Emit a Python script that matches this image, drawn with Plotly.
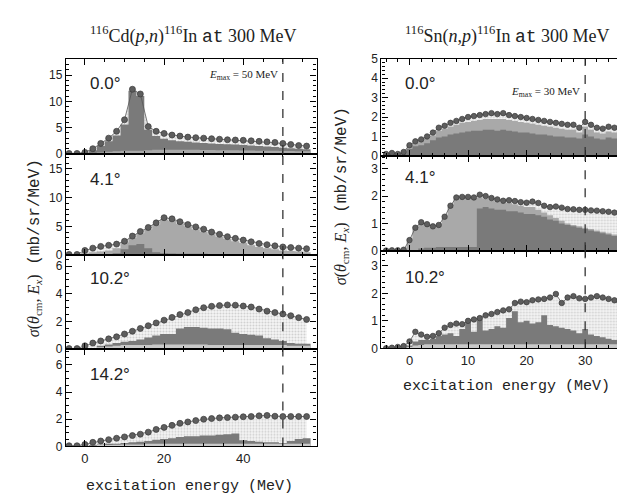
import plotly.graph_objects as go

# ---------------- data ----------------
LEFT_E = list(range(-4, 58, 2))      # excitation energy grid, Cd(p,n)
RIGHT_E = list(range(-4, 38))        # excitation energy grid, Sn(n,p)

CD_ANGLES = ["0.0°", "4.1°", "10.2°", "14.2°"]
SN_ANGLES = ["0.0°", "4.1°", "10.2°"]

# Cd(p,n) measured cross sections
CD_00 = [0.1, 0.1, 0.3, 1.0, 2.0, 3.0, 4.3, 6.5, 12.3, 11.4, 5.2, 4.3, 3.9, 3.6, 3.4, 3.2,
         3.1, 3.0, 2.9, 2.8, 2.7, 2.65, 2.6, 2.5, 2.4, 2.3, 2.2, 2.0, 1.8, 1.6, 1.5]
CD_41 = [0.1, 0.1, 0.8, 1.2, 1.5, 1.7, 1.9, 2.4, 3.3, 4.1, 4.8, 5.6, 6.5, 6.3, 5.8, 5.3,
         4.9, 4.5, 4.0, 3.6, 3.2, 2.9, 2.6, 2.3, 2.0, 1.8, 1.6, 1.4, 1.3, 1.2, 1.1]
CD_102 = [0.05, 0.05, 0.25, 0.45, 0.6, 0.75, 0.9, 1.1, 1.3, 1.5, 1.7, 1.9, 2.1, 2.3, 2.5, 2.65,
          2.85, 3.0, 3.1, 3.15, 3.2, 3.18, 3.12, 3.05, 2.9, 2.75, 2.65, 2.55, 2.42, 2.28, 2.15]
CD_142 = [0.05, 0.05, 0.15, 0.3, 0.4, 0.5, 0.6, 0.7, 0.8, 0.9, 1.05, 1.25, 1.4, 1.55, 1.7, 1.8,
          1.9, 2.0, 2.05, 2.1, 2.12, 2.15, 2.18, 2.2, 2.25, 2.28, 2.22, 2.2, 2.2, 2.2, 2.2]

# Cd(p,n) multipole components (histograms)
CD_00_DARK = [0, 0, 0.15, 0.7, 1.5, 2.4, 3.5, 5.6, 12.0, 11.0, 4.6, 3.4, 2.9, 2.6, 2.4, 2.3,
              2.2, 2.1, 2.0, 1.9, 1.85, 1.8, 1.7, 1.6, 1.5, 1.4, 1.3, 1.2, 1.1, 1.0, 0.9]
CD_00_MED = [0, 0, 0.05, 0.2, 0.3, 0.4, 0.5, 0.6, 0.6, 0.6, 0.7, 0.8, 0.8, 0.8, 0.8, 0.8,
             0.8, 0.75, 0.75, 0.7, 0.7, 0.7, 0.65, 0.65, 0.6, 0.6, 0.6, 0.55, 0.55, 0.5, 0.5]
CD_41_MED = [0, 0, 0.3, 0.5, 0.6, 0.8, 1.2, 2.2, 3.0, 3.8, 4.5, 5.3, 6.2, 6.0, 5.5, 5.0,
             4.5, 4.1, 3.6, 3.2, 2.8, 2.4, 2.1, 1.7, 1.4, 1.2, 1.0, 0.8, 0.7, 0.6, 0.5]
CD_41_DARK = [0, 0, 0, 0, 0, 0, 0.3, 1.0, 1.7, 1.9, 1.2, 0.5, 0.3, 0.25, 0.2, 0.2,
              0.2, 0.2, 0.15, 0.15, 0.15, 0.15, 0.1, 0.1, 0.1, 0.1, 0.1, 0.1, 0.1, 0.1, 0.1]
CD_102_DARK = [0, 0, 0, 0.1, 0.25, 0.35, 0.45, 0.55, 0.6, 0.7, 0.85, 1.0, 1.1, 1.1, 1.5, 1.6,
               1.6, 1.55, 1.5, 1.5, 1.45, 1.2, 1.1, 1.05, 1.0, 0.8, 0.7, 0.6, 0.45, 0.4, 0.4]
CD_102_BASE = [0, 0, 0, 0.1, 0.15, 0.2, 0.25, 0.3, 0.3, 0.3, 0.3, 0.35, 0.35, 0.35, 0.35, 0.35,
               0.35, 0.35, 0.3, 0.3, 0.3, 0.3, 0.3, 0.3, 0.3, 0.3, 0.3, 0.3, 0.25, 0.25, 0.25]
CD_142_DARK = [0, 0, 0, 0.1, 0.15, 0.2, 0.2, 0.25, 0.3, 0.35, 0.4, 0.5, 0.55, 0.6, 0.7, 0.75,
               0.75, 0.8, 0.8, 0.85, 0.9, 0.95, 0.45, 0.4, 0.35, 0.3, 0.3, 0.25, 0.4, 0.55, 0.6]
CD_142_BASE = [0, 0, 0, 0.05, 0.1, 0.1, 0.12, 0.15, 0.15, 0.15, 0.2, 0.2, 0.2, 0.2, 0.2, 0.2,
               0.2, 0.2, 0.2, 0.2, 0.2, 0.2, 0.2, 0.2, 0.2, 0.2, 0.2, 0.2, 0.2, 0.2, 0.2]

# Sn(n,p) measured cross sections
SN_00 = [0.1, 0.15, 0.1, 0.2, 0.55, 0.75, 0.85, 1.0, 1.2, 1.45, 1.55, 1.7, 1.8, 1.9, 2.0, 2.05,
         2.1, 2.15, 2.2, 2.15, 2.2, 2.1, 2.05, 2.0, 1.95, 1.9, 1.85, 1.8, 1.75, 1.7, 1.65, 1.6,
         1.6, 1.45, 1.75, 1.6, 1.45, 1.4, 1.5, 1.45, 1.55, 1.65]
SN_41 = [0.02, 0.03, 0.03, 0.05, 0.4, 0.85, 1.05, 0.98, 0.9, 0.95, 1.25, 1.65, 1.95, 1.97, 1.97, 1.95,
         2.05, 2.0, 1.93, 1.88, 1.83, 1.85, 1.82, 1.78, 1.76, 1.8, 1.75, 1.65, 1.6, 1.62, 1.58, 1.53,
         1.52, 1.5, 1.5, 1.48, 1.47, 1.45, 1.43, 1.4, 1.35, 1.4]
SN_102 = [0.0, 0.02, 0.05, 0.08, 0.25, 0.6, 0.5, 0.42, 0.45, 0.55, 0.75, 0.85, 0.9, 0.88, 1.0, 1.05,
          1.1, 1.2, 1.25, 1.32, 1.38, 1.42, 1.65, 1.7, 1.68, 1.75, 1.78, 1.8, 1.85, 1.98, 1.65, 1.85,
          1.9, 1.82, 1.8, 1.85, 1.9, 1.85, 1.8, 1.75, 1.55, 1.7]

# Sn(n,p) multipole components (histograms)
SN_00_MED = [0.08, 0.12, 0.08, 0.15, 0.5, 0.65, 0.75, 0.9, 1.05, 1.3, 1.4, 1.5, 1.6, 1.7, 1.75, 1.8,
             1.85, 1.9, 1.9, 1.9, 1.9, 1.85, 1.8, 1.75, 1.7, 1.65, 1.6, 1.55, 1.5, 1.45, 1.4, 1.35,
             1.35, 1.2, 1.5, 1.35, 1.2, 1.15, 1.25, 1.2, 1.3, 1.4]
SN_00_DARK = [0.05, 0.1, 0.05, 0.1, 0.35, 0.5, 0.55, 0.65, 0.8, 0.95, 1.0, 1.1, 1.15, 1.2, 1.25, 1.3,
              1.3, 1.35, 1.35, 1.3, 1.35, 1.3, 1.25, 1.2, 1.2, 1.15, 1.1, 1.1, 1.05, 1.0, 1.0, 0.95,
              0.95, 0.9, 1.1, 1.0, 0.9, 0.85, 0.95, 0.9, 1.0, 1.05]
SN_41_MED = [0, 0, 0, 0, 0.35, 0.8, 1.0, 0.93, 0.85, 0.9, 1.2, 1.6, 1.9, 1.92, 1.92, 1.9,
             1.95, 1.9, 1.85, 1.8, 1.75, 1.75, 1.7, 1.65, 1.6, 1.6, 1.5, 1.4, 1.3, 1.2, 1.1, 1.0,
             0.95, 0.9, 0.85, 0.8, 0.75, 0.7, 0.65, 0.6, 0.55, 0.5]
SN_41_DARK = [0, 0, 0, 0, 0, 0, 0, 0, 0, 0, 0, 0, 0, 0, 0, 0,
              1.55, 1.6, 1.55, 1.5, 1.5, 1.45, 1.45, 1.4, 1.35, 1.35, 1.3, 1.25, 1.15, 1.1, 1.0, 0.95,
              0.9, 0.85, 0.8, 0.75, 0.7, 0.65, 0.6, 0.55, 0.5, 0.45]
SN_41_BASE = [0, 0, 0, 0, 0, 0, 0.1, 0.12, 0.12, 0.15, 0.15, 0.15, 0.15, 0.15, 0.15, 0.15,
              0.15, 0.15, 0.15, 0.15, 0.15, 0.15, 0.15, 0.15, 0.15, 0.15, 0.15, 0.15, 0.15, 0.15, 0.15, 0.15,
              0.15, 0.15, 0.15, 0.15, 0.15, 0.15, 0.15, 0.15, 0.15, 0.15]
SN_102_DARK = [0, 0, 0, 0, 0.1, 0.25, 0.3, 0.3, 0.35, 0.45, 0.5, 0.55, 0.45, 0.7, 0.95, 0.6,
               1.05, 0.65, 0.7, 0.8, 0.75, 1.1, 1.35, 0.95, 1.0, 0.9, 0.95, 1.2, 0.85, 0.8, 0.75, 0.7,
               0.65, 0.55, 0.7, 0.5, 0.45, 0.4, 0.35, 0.3, 0.3, 0.25]
SN_102_BASE = [0, 0, 0, 0, 0.05, 0.1, 0.12, 0.15, 0.15, 0.15, 0.15, 0.15, 0.15, 0.15, 0.15, 0.15,
               0.15, 0.15, 0.15, 0.15, 0.15, 0.15, 0.15, 0.15, 0.15, 0.15, 0.15, 0.15, 0.15, 0.15, 0.15, 0.15,
               0.15, 0.15, 0.15, 0.15, 0.15, 0.15, 0.15, 0.15, 0.15, 0.15]

# ---------------- styling ----------------
W, H = 625, 495
DARK = "#7a7a7a"
MED = "#a9a9a9"
LIGHT = "#c9c9c9"
MARK = "#5e5e5e"

def py(p):
    return 1 - p / H

def px(p):
    return p / W

LEFT_XD = [px(58), px(309)]
RIGHT_XD = [px(374), 1.0]
panels = [
    dict(E=LEFT_E, y=CD_00, layers=[(CD_00_DARK, DARK), (CD_00_MED, MED)], yd=(45, 143), xd=LEFT_XD,
         xr=[-4.8, 58.5], yr=[0, 18.1], dt=5, mt=1, lab=CD_ANGLES[0], ly=0.745),
    dict(E=LEFT_E, y=CD_41, layers=[(CD_41_MED, MED), (CD_41_DARK, DARK)], yd=(143, 247), xd=LEFT_XD,
         xr=[-4.8, 58.5], yr=[0, 17.6], dt=5, mt=1, lab=CD_ANGLES[1], ly=0.745),
    dict(E=LEFT_E, y=CD_102, layers=[(CD_102_DARK, DARK), (CD_102_BASE, LIGHT)], yd=(247, 344), xd=LEFT_XD,
         xr=[-4.8, 58.5], yr=[0, 6.8], dt=2, mt=0.5, lab=CD_ANGLES[2], ly=0.75),
    dict(E=LEFT_E, y=CD_142, layers=[(CD_142_DARK, DARK), (CD_142_BASE, LIGHT)], yd=(344, 444), xd=LEFT_XD,
         xr=[-4.8, 58.5], yr=[0, 7.14], dt=2, mt=0.5, lab=CD_ANGLES[3], ly=0.74),
    dict(E=RIGHT_E, y=SN_00, layers=[(SN_00_MED, MED), (SN_00_DARK, DARK)], yd=(45, 145), xd=RIGHT_XD,
         xr=[-4.8, 38.0], yr=[0, 5], dt=1, mt=0.2, lab=SN_ANGLES[0], ly=0.74),
    dict(E=RIGHT_E, y=SN_41, layers=[(SN_41_MED, MED), (SN_41_DARK, DARK), (SN_41_BASE, DARK)], yd=(145, 243),
         xd=RIGHT_XD, xr=[-4.8, 38.0], yr=[0, 3.46], dt=1, mt=0.2, lab=SN_ANGLES[1], ly=0.77),
    dict(E=RIGHT_E, y=SN_102, layers=[(SN_102_DARK, DARK), (SN_102_BASE, LIGHT)], yd=(243, 343), xd=RIGHT_XD,
         xr=[-4.8, 38.0], yr=[0, 3.54], dt=1, mt=0.2, lab=SN_ANGLES[2], ly=0.73),
]


def steps(xs, ys):
    h = (xs[1] - xs[0]) / 2
    ex = [x - h for x in xs] + [xs[-1] + h]
    ey = list(ys) + [ys[-1]]
    return ex, ey


fig = go.Figure()
layout = dict(width=W, height=H, margin=dict(l=0, r=0, t=0, b=0), showlegend=False,
              paper_bgcolor="white", plot_bgcolor="white",
              font=dict(family="Liberation Sans, Arial", size=12, color="#222"))
annotations = []
shapes = []

for i, p in enumerate(panels):
    n = i + 1
    xa = "x" if n == 1 else f"x{n}"
    ya = "y" if n == 1 else f"y{n}"
    E = p["E"]
    fig.add_trace(go.Scatter(x=E, y=p["y"], xaxis=xa, yaxis=ya, mode="lines", line=dict(width=0),
                             fill="tozeroy",
                             fillpattern=dict(shape=".", fgcolor="#a8a8a8", bgcolor="#f5f5f5",
                                              size=3, solidity=0.35),
                             hoverinfo="skip"))
    for vals, col in p["layers"]:
        sx, sy = steps(E, vals)
        fig.add_trace(go.Scatter(x=sx, y=sy, xaxis=xa, yaxis=ya, mode="lines",
                                 line=dict(width=0, shape="hv"), fill="tozeroy",
                                 fillcolor=col, hoverinfo="skip"))
    left = E is LEFT_E
    fig.add_trace(go.Scatter(x=E, y=p["y"], xaxis=xa, yaxis=ya, mode="lines+markers",
                             line=dict(color="#555", width=0.8),
                             marker=dict(size=6 if left else 5.5, color=MARK,
                                         line=dict(color="#3a3a3a", width=0.7))))
    bottom = n in (4, 7)
    layout["xaxis" if n == 1 else f"xaxis{n}"] = dict(
        domain=p["xd"], range=p["xr"], anchor=ya, showline=True, linecolor="black", linewidth=1.2,
        mirror="allticks", ticks="inside", ticklen=6, tickcolor="black",
        dtick=20 if left else 10, tick0=0, showticklabels=bottom, showgrid=False, zeroline=False,
        minor=dict(ticks="inside", ticklen=3, dtick=5 if left else 2, tickcolor="black"),
        tickfont=dict(size=13))
    layout["yaxis" if n == 1 else f"yaxis{n}"] = dict(
        domain=[py(p["yd"][1]), py(p["yd"][0])], range=p["yr"], anchor=xa, showline=True,
        linecolor="black", linewidth=1.2, mirror="allticks", ticks="inside", ticklen=6,
        tickcolor="black", dtick=p["dt"], tick0=0, showgrid=False, zeroline=False,
        minor=dict(ticks="inside", ticklen=3, dtick=p["mt"], tickcolor="black"),
        tickfont=dict(size=12))
    annotations.append(dict(text=p["lab"], xref=f"{xa} domain", yref=f"{ya} domain",
                            x=0.088, y=p["ly"], xanchor="left", yanchor="middle", showarrow=False,
                            font=dict(family="Liberation Sans, Arial", size=17, color="#222")))
    shapes.append(dict(type="line", xref=xa, yref=f"{ya} domain", x0=50 if left else 30,
                       x1=50 if left else 30, y0=0, y1=1,
                       line=dict(color="#333", width=1.3, dash="dash")))

annotations.append(dict(text="<i>E</i><sub>max</sub> = 50 MeV", xref="x", yref="y", x=49.3, y=15.0,
                        xanchor="right", yanchor="middle", showarrow=False,
                        font=dict(family="Liberation Serif", size=11, color="#222")))
annotations.append(dict(text="<i>E</i><sub>max</sub> = 30 MeV", xref="x5", yref="y5", x=29.4, y=3.3,
                        xanchor="right", yanchor="middle", showarrow=False,
                        font=dict(family="Liberation Serif", size=11, color="#222")))

MONO = "Liberation Mono, Courier New, monospace"
annotations.append(dict(
    text="<sup>116</sup>Cd(<i>p</i>,<i>n</i>)<sup>116</sup>In <span style='font-family:Liberation Mono'>at</span> 300 MeV",
    xref="paper", yref="paper", x=px(185), y=py(21), xanchor="center", yanchor="middle", showarrow=False,
    font=dict(family="Liberation Serif", size=18, color="#222")))
annotations.append(dict(
    text="<sup>116</sup>Sn(<i>n</i>,<i>p</i>)<sup>116</sup>In <span style='font-family:Liberation Mono'>at</span> 300 MeV",
    xref="paper", yref="paper", x=px(500), y=py(21), xanchor="center", yanchor="middle", showarrow=False,
    font=dict(family="Liberation Serif", size=18, color="#222")))

XLAB = "excitation energy (MeV)"
YLAB = ("<span style='font-family:Liberation Serif'><i>σ</i>(<i>θ</i><sub>cm</sub>, <i>E</i><sub><i>x</i></sub>)</span>"
        " (mb/sr/MeV)")
annotations.append(dict(text=XLAB, xref="paper", yref="paper", x=px(182), y=py(485), xanchor="center",
                        yanchor="middle", showarrow=False, font=dict(family=MONO, size=15, color="#222")))
annotations.append(dict(text=XLAB, xref="paper", yref="paper", x=px(499), y=py(382), xanchor="center",
                        yanchor="middle", showarrow=False, font=dict(family=MONO, size=15, color="#222")))
annotations.append(dict(text=YLAB, xref="paper", yref="paper", x=px(26), y=py(240), xanchor="center",
                        yanchor="middle", textangle=-90, showarrow=False,
                        font=dict(family=MONO, size=16, color="#222")))
annotations.append(dict(text=YLAB, xref="paper", yref="paper", x=px(334), y=py(186), xanchor="center",
                        yanchor="middle", textangle=-90, showarrow=False,
                        font=dict(family=MONO, size=16, color="#222")))

layout["annotations"] = annotations
layout["shapes"] = shapes
fig.update_layout(**layout)
fig.write_html("out.html")
